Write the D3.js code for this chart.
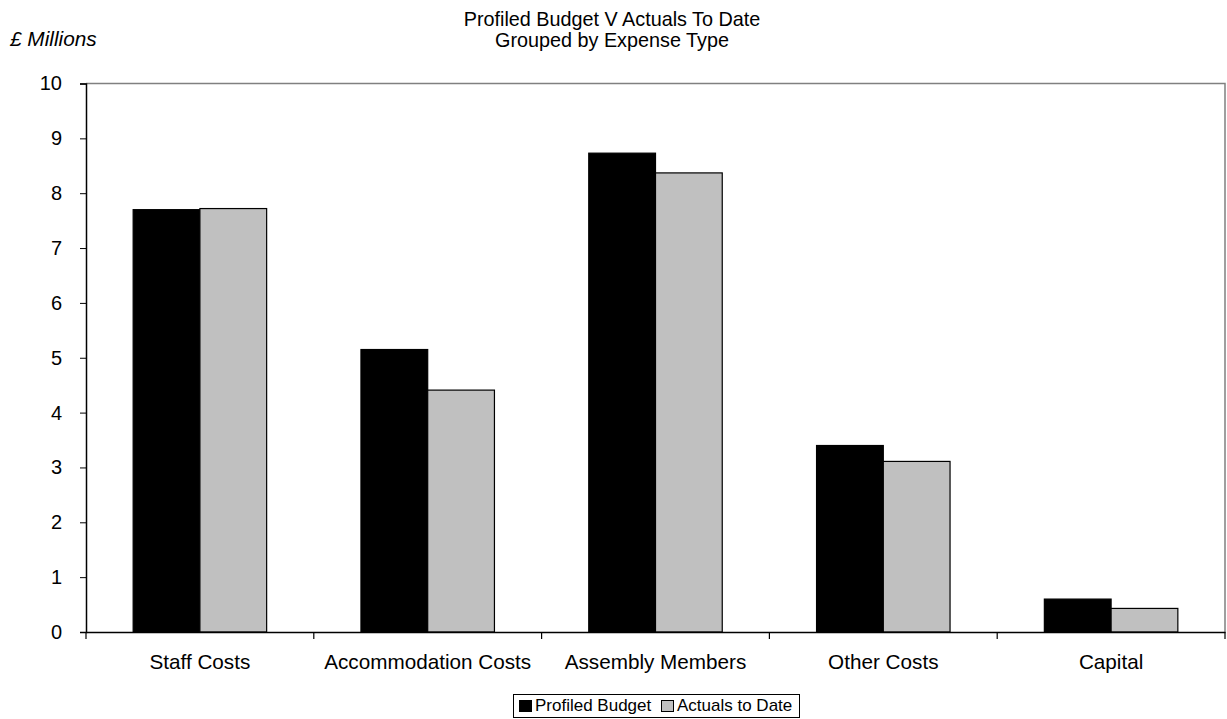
<!DOCTYPE html>
<html><head><meta charset="utf-8">
<script src="https://cdn.jsdelivr.net/npm/d3@7"></script>
<style>body{margin:0;background:#fff}svg{display:block;font-family:"Liberation Sans",Arial,sans-serif}</style>
</head><body><svg id="c" width="1227" height="719"></svg>
<script>
const categories = ["Staff Costs","Accommodation Costs","Assembly Members","Other Costs","Capital"];
const seriesNames = ["Profiled Budget","Actuals to Date"];
const profiledBudget = [7.70, 5.15, 8.73, 3.40, 0.60];
const actualsToDate = [7.72, 4.41, 8.37, 3.11, 0.43];
const yTicks = [0,1,2,3,4,5,6,7,8,9,10];
const colors = ["#000000","#c0c0c0"];

const FF = "Liberation Sans, Arial, sans-serif";
const svg = d3.select("#c");
const L=86, R=1225, T=83.5, B=632;
const x = d3.scaleBand().domain(categories).range([L,R]).paddingInner(0).paddingOuter(0);
const inner = d3.scaleBand().domain(seriesNames).range([x.bandwidth()*0.207, x.bandwidth()*0.793]);
const y = d3.scaleLinear().domain([0,10]).range([B,T]);

// plot frame (top/right gray)
svg.append("path").attr("d",`M${L},${T}H${R}V${B}`).attr("fill","none").attr("stroke","#808080").attr("stroke-width",1.5);

const data = categories.map((c,i)=>({c, v:[profiledBudget[i], actualsToDate[i]]}));
const g = svg.append("g");
data.forEach(d=>{
  d.v.forEach((v,j)=>{
    g.append("rect").attr("x",x(d.c)+inner(seriesNames[j])).attr("y",y(v))
     .attr("width",inner.bandwidth()).attr("height",y(0)-y(v))
     .attr("fill",colors[j]).attr("stroke","#000").attr("stroke-width",1.2);
  });
});

// y axis
const ya = svg.append("g").attr("transform",`translate(${L},0)`)
  .call(d3.axisLeft(y).tickValues(yTicks).tickSize(6).tickPadding(18).tickFormat(d3.format("d")));
ya.select(".domain").attr("stroke","#000").attr("stroke-width",1.5);
ya.selectAll(".tick line").attr("stroke","#000");
ya.selectAll("text").attr("font-size",20).attr("fill","#000").attr("font-family",FF);

// x axis
const xa = svg.append("g").attr("transform",`translate(0,${B})`)
  .call(d3.axisBottom(x).tickSize(0).tickPadding(22.5));
xa.select(".domain").attr("stroke","#000").attr("stroke-width",1.5);
xa.selectAll("text").attr("font-size",20.7).attr("fill","#000").attr("font-family",FF);
const bounds = categories.map(c=>x(c)).concat([R]);
svg.append("g").selectAll("line").data(bounds).join("line")
  .attr("x1",d=>d).attr("x2",d=>d).attr("y1",B).attr("y2",B+7).attr("stroke","#000").attr("stroke-width",1.2);

// titles
svg.append("text").attr("x",612).attr("y",26).attr("text-anchor","middle").attr("font-size",19.8).text("Profiled Budget V Actuals To Date");
svg.append("text").attr("x",612).attr("y",47).attr("text-anchor","middle").attr("font-size",19.8).text("Grouped by Expense Type");
svg.append("text").attr("x",10).attr("y",46).attr("font-size",20.8).attr("font-style","italic").text("£ Millions");

// legend
const lg = svg.append("g");
lg.append("rect").attr("x",513.5).attr("y",694.5).attr("width",286).attr("height",23).attr("fill","#fff").attr("stroke","#000").attr("stroke-width",1);
const items = [{n:seriesNames[0],c:colors[0],x:519.5},{n:seriesNames[1],c:colors[1],x:661.5}];
items.forEach(it=>{
  lg.append("rect").attr("x",it.x).attr("y",700.5).attr("width",12).attr("height",11).attr("fill",it.c).attr("stroke","#000").attr("stroke-width",1);
  lg.append("text").attr("x",it.x+15.5).attr("y",711).attr("font-size",17).text(it.n);
});
</script></body></html>
